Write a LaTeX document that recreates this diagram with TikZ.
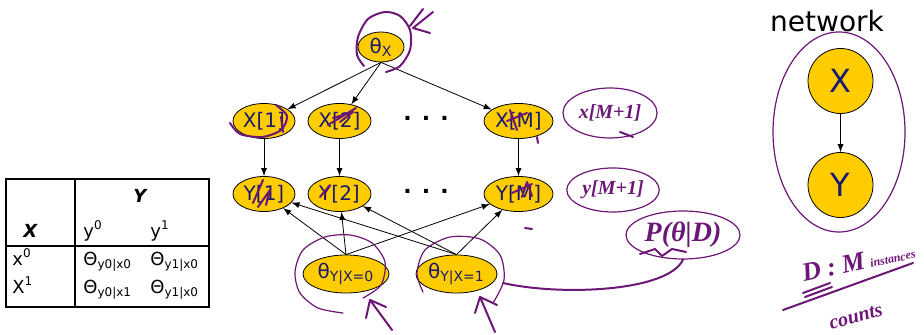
\documentclass[tikz,border=0pt]{standalone}
\usepackage{fontspec}
\setmainfont{DejaVu Sans}
\newfontfamily\handfont{Liberation Serif}
\usetikzlibrary{matrix,arrows,shapes.geometric}
\definecolor{gold}{RGB}{255,204,0}
\definecolor{navy}{RGB}{26,26,110}
\definecolor{ink}{RGB}{108,22,118}
\tikzset{
  var/.style={ellipse, draw=black, fill=gold, text=navy, inner sep=0pt,
    minimum height=17.5pt, font=\fontsize{10}{12}\selectfont},
  bigvar/.style={circle, draw=black, fill=gold, text=navy, inner sep=0pt,
    minimum size=32.5pt, font=\fontsize{16}{19}\selectfont},
  dots/.style={font=\bfseries\fontsize{11}{11}\selectfont},
  pen/.style={draw=ink, line width=1pt, line cap=round, line join=round},
  thinpen/.style={pen, line width=0.6pt},
  note/.style={text=ink, inner sep=1pt, font=\handfont\itshape\bfseries\fontsize{10}{12}\selectfont},
  tab/.style={font=\fontsize{9}{11}\selectfont}
}
\begin{document}
\begin{tikzpicture}[x=0.5pt, y=-0.5pt, >=latex]
  \useasboundingbox (0,0) rectangle (924,335);

  % CPD table
  \draw[line width=1pt] (6,179) rectangle (209,307) (75,179) -- (75,307) (6,246) -- (209,246);
  \node[tab, font=\bfseries\itshape\fontsize{9}{11}\selectfont] (ycap) at (140,196) {Y};
  \matrix (m) [matrix of nodes, anchor=north west, inner sep=0pt, row sep=5pt, column sep=0pt,
    nodes={tab, anchor=base west, inner sep=0pt, text height=7pt, text depth=2pt},
    column 1/.style={nodes={text width=35.5pt}},
    column 2/.style={nodes={text width=33.5pt}},
    column 3/.style={nodes={text width=28pt}}] at (12,223)
  {
\hspace*{5.5pt}\textbf{\textit{X}} & y\textsuperscript{0} & y\textsuperscript{1} \\
x\textsuperscript{0} & Θ\textsubscript{y0|x0} & Θ\textsubscript{y1|x0} \\
X\textsuperscript{1} & Θ\textsubscript{y0|x1} & Θ\textsubscript{y1|x0} \\
  };

  % unrolled model
  \node[var, minimum width=23pt, minimum height=15pt] (thx) at (381,47) {θ\textsubscript{X}};
  \node[var, minimum width=31pt] (x1) at (264,121) {X[1]};
  \node[var, minimum width=31.5pt] (x2) at (339.5,121) {X[2]};
  \node[dots] (xdots) at (426,118) {. . .};
  \node[var, minimum width=34.5pt] (xm) at (518.5,121) {X[M]};
  \node[var, minimum width=31pt] (y1) at (264,194) {Y[1]};
  \node[var, minimum width=31.5pt] (y2) at (339.5,194) {Y[2]};
  \node[dots] (ydots) at (426,191) {. . .};
  \node[var, minimum width=34.5pt] (ym) at (518.5,194) {Y[M]};
  \node[var, minimum width=43pt, minimum height=19pt] (thy0) at (346,274) {θ\textsubscript{Y|X=0}};
  \node[var, minimum width=40.5pt, minimum height=19pt] (thy1) at (456.5,274) {θ\textsubscript{Y|X=1}};

  % network
  \node[font=\fontsize{14}{16}\selectfont] (net) at (827,21) {network};
  \node[bigvar] (nx) at (840.5,81) {X};
  \node[bigvar] (ny) at (840.5,185) {Y};

  \path[->]
  (thx.south) edge (x1) edge (x2) edge (xm)
  (x1) edge (y1) (x2) edge (y2) (xm) edge (ym)
  (thy0.north) edge (y1) edge (y2) edge (ym)
  (thy1.north) edge (y1) edge (y2) edge (ym)
  (nx) edge (ny);

  % handwritten notes
  \node[note, ellipse, thinpen, minimum width=43pt, minimum height=25pt] (xnew) at (610,113) {x[M+1]};
  \node[note, ellipse, thinpen, minimum width=38pt, minimum height=22pt] (ynew) at (613,190) {y[M+1]};
  \node[note, ellipse, thinpen, minimum width=57pt, minimum height=24pt,
    font=\handfont\itshape\bfseries\fontsize{14}{16}\selectfont] (post) at (683,235) {P(θ|D)};
  \coordinate (tail) at (503,283);
  \draw[pen] (tail) .. controls (560,296) and (668,292) .. (post.south);
  \draw[pen] (640,254) -- (655,249) -- (662,256) -- (672,249) -- (686,252);
  \draw[pen] (620,132) -- (633,137);
  \draw[thinpen] (839,132) ellipse [x radius=33pt, y radius=50pt];
  \node[note, anchor=west, rotate=12] (data) at (800,274)
    {{\fontsize{13}{13}\selectfont D : M} {\fontsize{6}{6}\selectfont instances}};
  \node[note, rotate=15, font=\handfont\itshape\bfseries\fontsize{10}{12}\selectfont] (cnt) at (856,317) {counts};
  \draw[pen] (783,310) -- (913,263);
  \draw[pen] (803,293) -- (830,283) (805,297) -- (832,287);

  % marks on the model
  \draw[pen] plot[smooth] coordinates {(386,72) (400,66) (410,50) (410,30) (400,16) (385,12) (368,19) (358,37) (357,55) (364,66)};
  \draw[pen] (433,12) -- (413,28) -- (430,33) (423,9) -- (410,26);
  \draw[pen] plot[smooth] coordinates {(230,123) (240,134) (262,137) (281,130) (287,116) (276,105)};
  \draw[pen] (281,117) -- (283,132);
  \draw[pen] (328,125) -- (356,108) (333,118) -- (353,112) -- (340,122);
  \draw[pen] (510,110) -- (517,130) (507,121) -- (527,113) (537,137) -- (538,143);
  \draw[pen] (253,203) -- (263,180) (258,207) -- (270,190) -- (266,205);
  \draw[pen] (320,197) -- (330,185);
  \draw[pen] (512,193) -- (532,184) (522,197) -- (527,182) -- (532,196) (525,228) -- (532,229);
  \draw[thinpen] plot[smooth] coordinates {(343,313) (318,308) (300,293) (295,272) (303,250) (325,237) (350,235) (372,243) (385,262) (381,285) (363,298)};
  \draw[pen] (392,330) -- (370,300) (366,318) -- (370,300) -- (386,307);
  \draw[thinpen] plot[smooth] coordinates {(423,292) (417,273) (425,250) (450,237) (480,239) (500,255) (504,280) (493,303)};
  \draw[pen] (495,332) -- (480,297) (475,313) -- (480,297) -- (497,305);
\end{tikzpicture}
\end{document}
